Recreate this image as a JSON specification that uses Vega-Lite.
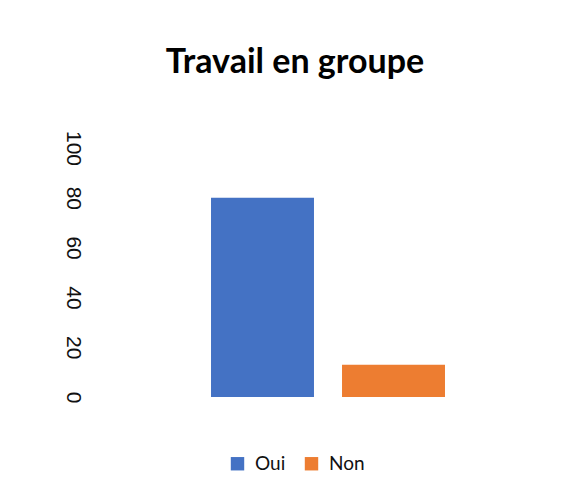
{
  "$schema": "https://vega.github.io/schema/vega-lite/v6.json",
  "autosize": {"type": "none"},
  "width": 458,
  "height": 249,
  "padding": {"left": 99, "top": 148, "right": 15, "bottom": 97},
  "background": "white",
  "title": {
    "text": "Travail en groupe",
    "font": "Lato",
    "fontSize": 34,
    "fontWeight": "bold",
    "color": "#000000",
    "anchor": "middle",
    "dx": -33,
    "baseline": "alphabetic",
    "offset": 23
  },
  "data": {
    "values": [
      {"serie": "Oui", "valeur": 80},
      {"serie": "Non", "valeur": 13}
    ]
  },
  "mark": {"type": "bar"},
  "encoding": {
    "x": {
      "field": "serie",
      "type": "nominal",
      "sort": ["Oui", "Non"],
      "scale": {"paddingInner": 0.214, "paddingOuter": 0.855},
      "axis": null
    },
    "y": {
      "field": "valeur",
      "type": "quantitative",
      "scale": {"domain": [0, 100]},
      "axis": {
        "title": null,
        "values": [0, 20, 40, 60, 80, 100],
        "grid": false,
        "domain": false,
        "ticks": false,
        "labelAngle": 90,
        "labelFont": "Liberation Sans",
        "labelFontSize": 21,
        "labelColor": "#111111",
        "labelPadding": 16
      }
    },
    "color": {
      "field": "serie",
      "type": "nominal",
      "scale": {"domain": ["Oui", "Non"], "range": ["#4472C4", "#ED7D31"]},
      "legend": {
        "title": null,
        "orient": "none",
        "direction": "horizontal",
        "legendX": 129,
        "legendY": 306,
        "symbolType": "square",
        "symbolSize": 180,
        "symbolStrokeWidth": 0,
        "labelFont": "Lato",
        "labelFontSize": 19,
        "labelColor": "#111111",
        "labelOffset": 8,
        "columnPadding": 16
      }
    }
  },
  "config": {"view": {"stroke": null}}
}
